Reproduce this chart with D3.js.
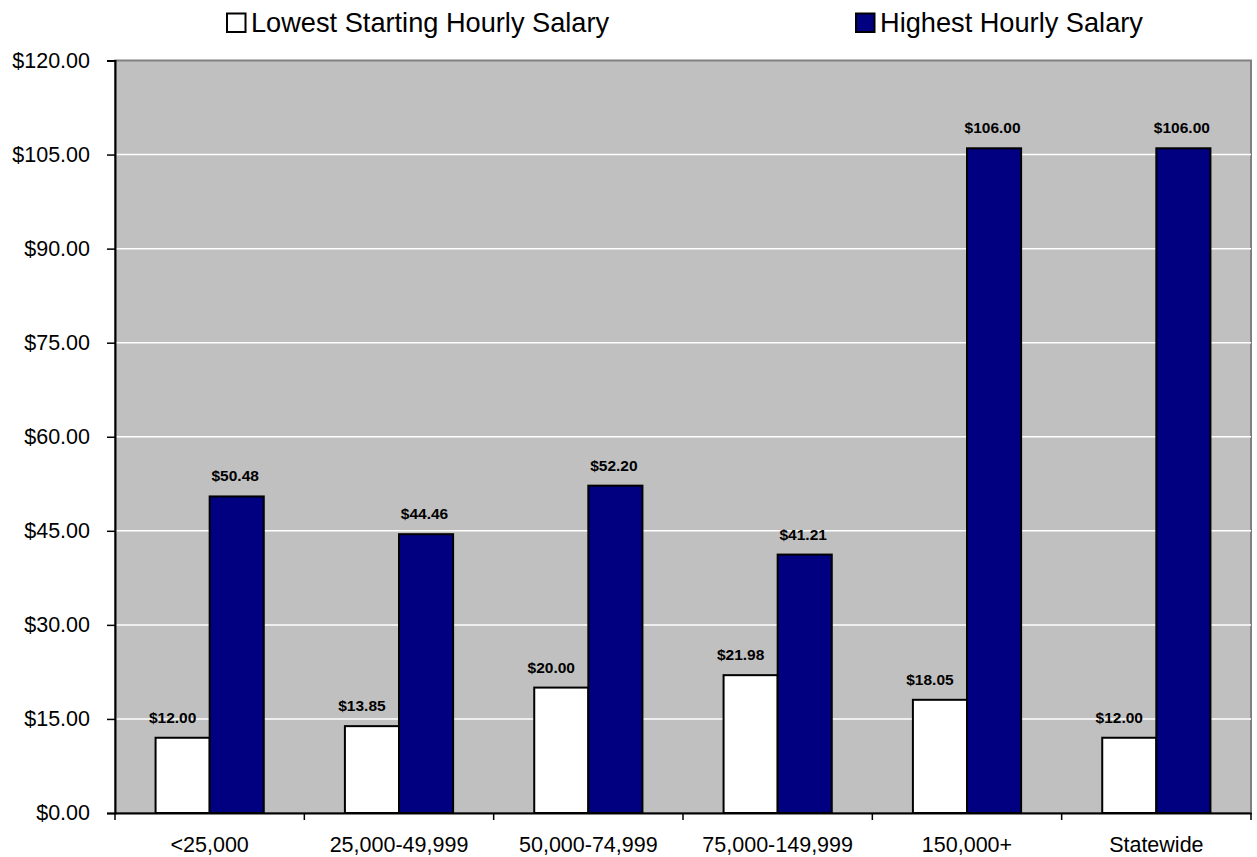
<!DOCTYPE html>
<html lang="en">
<head>
    <meta charset="utf-8">
    <title>Hourly salary by population group</title>
    <script src="https://cdn.jsdelivr.net/npm/d3@7"></script>
    <style>
        body { margin: 0; background: #fff; }
        text { font-family: Arial, "Liberation Sans", sans-serif; fill: #000; }
        .axis text { font-size: 21.5px; }
        .label { font-size: 15.5px; font-weight: bold; }
        .legend text { font-size: 27.2px; }
    </style>
</head>
<body>
<script type="text/javascript">

    var categories = ["<25,000", "25,000-49,999", "50,000-74,999", "75,000-149,999", "150,000+", "Statewide"];
    var lowest = [12.00, 13.85, 20.00, 21.98, 18.05, 12.00];
    var highest = [50.48, 44.46, 52.20, 41.21, 106.00, 106.00];
    var seriesNames = ["Lowest Starting Hourly Salary", "Highest Hourly Salary"];
    var yTicks = [0, 15, 30, 45, 60, 75, 90, 105, 120];

    var w = 1257, h = 857;
    var plotLeft = 115, plotRight = 1251, plotTop = 60.5, plotBottom = 813;

    var svg = d3.select("body").append("svg")
            .attr("width", w)
            .attr("height", h);

    var x = d3.scaleBand().domain(categories).range([plotLeft, plotRight]);
    // Excel gap width 150%: two bars take 2/3.5 of the band
    var gap = x.bandwidth() * 0.75 / 3.5;
    var inner = d3.scaleBand().domain([0, 1]).range([gap, x.bandwidth() - gap]);
    var y = d3.scaleLinear().domain([0, 120]).range([plotBottom, plotTop]);

    // plot background
    svg.append("rect")
            .attr("x", plotLeft).attr("y", plotTop)
            .attr("width", plotRight - plotLeft).attr("height", plotBottom - plotTop)
            .attr("fill", "#c0c0c0")
            .attr("stroke", "#808080").attr("stroke-width", 2);

    // gridlines
    svg.append("g").selectAll("line")
            .data(yTicks.filter(function (d) { return d > 0 && d < 120; }))
            .enter().append("line")
            .attr("x1", plotLeft).attr("x2", plotRight)
            .attr("y1", function (d) { return y(d); })
            .attr("y2", function (d) { return y(d); })
            .attr("stroke", "#fff").attr("stroke-width", 1.5);

    var series = [lowest, highest];
    var colors = ["#ffffff", "#000080"];
    var labelShift = [-10, -1.5];

    series.forEach(function (vals, s) {
        var g = svg.append("g");
        g.selectAll("rect")
                .data(vals)
                .enter().append("rect")
                .attr("x", function (d, i) { return x(categories[i]) + inner(s); })
                .attr("y", function (d) { return y(d); })
                .attr("width", inner.bandwidth())
                .attr("height", function (d) { return plotBottom - y(d); })
                .attr("fill", colors[s])
                .attr("stroke", "#000").attr("stroke-width", 2);
        g.selectAll("text")
                .data(vals)
                .enter().append("text")
                .attr("class", "label")
                .attr("text-anchor", "middle")
                .attr("x", function (d, i) { return x(categories[i]) + inner(s) + inner.bandwidth() / 2 + labelShift[s]; })
                .attr("y", function (d) { return y(d) - 15; })
                .text(function (d) { return "$" + d.toFixed(2); });
    });

    // y axis
    var yAxis = svg.append("g").attr("class", "axis")
            .attr("transform", "translate(" + plotLeft + ",0)")
            .call(d3.axisLeft(y).tickValues(yTicks).tickSize(8).tickPadding(17)
                    .tickFormat(function (d) { return "$" + d.toFixed(2); }));
    yAxis.select(".domain").attr("stroke", "#000").attr("stroke-width", 2);
    yAxis.selectAll(".tick line").attr("stroke", "#000").attr("stroke-width", 1.5);

    // x axis
    var xAxis = svg.append("g").attr("class", "axis")
            .attr("transform", "translate(0," + plotBottom + ")")
            .call(d3.axisBottom(x).tickSize(0).tickPadding(24));
    xAxis.select(".domain").attr("stroke", "#000").attr("stroke-width", 2);
    xAxis.selectAll(".tick text").attr("dy", "0.71em");
    xAxis.selectAll("line.boundary")
            .data(d3.range(categories.length + 1))
            .enter().append("line")
            .attr("class", "boundary")
            .attr("x1", function (i) { return plotLeft + i * x.step(); })
            .attr("x2", function (i) { return plotLeft + i * x.step(); })
            .attr("y1", 0).attr("y2", 7)
            .attr("stroke", "#000").attr("stroke-width", 1.5);

    // legend
    var legendX = [227, 856];
    var legend = svg.append("g").attr("class", "legend");
    seriesNames.forEach(function (name, s) {
        legend.append("rect")
                .attr("x", legendX[s]).attr("y", 13.5)
                .attr("width", 18.5).attr("height", 18.5)
                .attr("fill", colors[s])
                .attr("stroke", "#000").attr("stroke-width", 2);
        legend.append("text")
                .attr("x", legendX[s] + 24).attr("y", 32)
                .text(name);
    });

</script>
</body>
</html>
